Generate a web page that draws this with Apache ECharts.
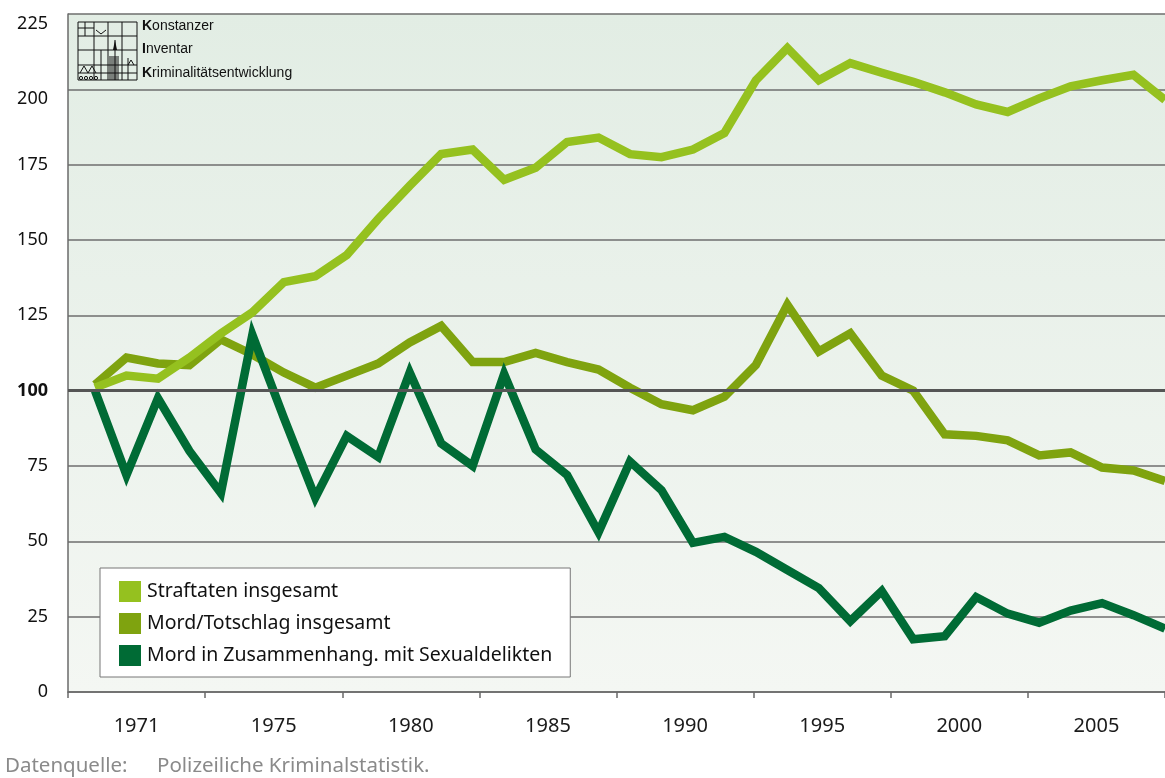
<!DOCTYPE html>
<html>
<head>
<meta charset="utf-8">
<script src="https://cdn.jsdelivr.net/npm/echarts@6/dist/echarts.min.js"></script>
<style>
  html, body {margin: 0; padding: 0; background: #fff;}
  #chart {width: 1165px; height: 778px;}
</style>
</head>
<body>
<div id="chart"></div>
<script>
// Index 1971 = 100, Konstanzer Inventar Kriminalitätsentwicklung

const YEARS = [
  1971, 1972, 1973, 1974, 1975, 1976, 1977, 1978, 1979, 1980,
  1981, 1982, 1983, 1984, 1985, 1986, 1987, 1988, 1989, 1990,
  1991, 1992, 1993, 1994, 1995, 1996, 1997, 1998, 1999, 2000,
  2001, 2002, 2003, 2004, 2005,
]

const STRAFTATEN = [
  101, 105, 104, 111, 119, 126, 136, 138, 145, 157,
  168, 178.5, 180, 170, 174, 182.5, 184, 178.5, 177.5, 180,
  185.5, 203, 213.7, 203, 208.7, 205.5, 202.5, 199, 195, 192.5,
  197, 201, 203, 204.8, 196.5,
]

const MORD_TOTSCHLAG = [
  102, 111, 109, 108.5, 117, 112, 106, 101, 105, 109,
  116, 121.5, 109.5, 109.5, 112.5, 109.5, 107, 101, 95.5, 93.5,
  98, 108.5, 128.5, 113, 119, 105, 100, 85.5, 85, 83.5,
  78.5, 79.5, 74.5, 73.5, 70,
]

const MORD_SEXUAL = [
  100, 72, 97.5, 80, 66, 118.5, 91, 64.5, 85, 78,
  106, 82.5, 75, 105.5, 80.5, 72, 53, 76.5, 67, 49.5,
  51.5, 46.5, 40.5, 34.5, 23.5, 33.5, 17.5, 18.5, 31.5, 26,
  23, 27, 29.5, 25.5, 21,
]

const TICK_LABELS = ["1971", "1975", "1980", "1985", "1990", "1995", "2000", "2005"]

const SERIES_NAMES = [
  "Straftaten insgesamt",
  "Mord/Totschlag insgesamt",
  "Mord in Zusammenhang. mit Sexualdelikten",
]

const COLORS = ["#95c11f", "#7fa30f", "#006b35"]
const FONT = "'Noto Sans', 'Open Sans', sans-serif"
const LOGO_FONT = "'Liberation Sans', Arial, sans-serif"

function toPoints(values) {
  return YEARS.map((y, i) => [y, values[i]])
}

function lineSeries(name, values, color, z) {
  return {
    name,
    type: "line",
    xAxisIndex: 0,
    yAxisIndex: 0,
    data: toPoints(values),
    symbol: "none",
    smooth: false,
    z,
    lineStyle: {color, width: 8.5, join: "miter", miterLimit: 10},
    itemStyle: {color},
  }
}

// small drawing of the KIK logo (grid with a church silhouette)
function logoGraphic() {
  const x0 = 78, y0 = 22, x1 = 137, y1 = 80
  const stroke = {stroke: "#111", lineWidth: 1}
  const lines = [
    [x0, 36, x1, 36], [x0, 50, x1, 50], [x0, 65, x1, 65], [x0, 73, x1, 73],
    [94, y0, 94, y1], [108, y0, 108, y1], [122, y0, 122, y1],
    [85, y0, 85, 36], [x0, 28, 94, 28],
    [101, 50, 101, y1], [115, 40, 115, y1], [128, 58, 128, y1],
  ]
  const children = [
    {type: "rect", shape: {x: x0, y: y0, width: x1 - x0, height: y1 - y0}, style: {fill: "none", ...stroke}},
    ...lines.map(([a, b, c, d]) => ({type: "line", shape: {x1: a, y1: b, x2: c, y2: d}, style: stroke})),
    {type: "polygon", shape: {points: [[113, 50], [115, 40], [117, 50]]}, style: {fill: "#111"}},
    {type: "polyline", shape: {points: [[80, 73], [84, 66], [88, 73], [92, 66], [96, 73]]}, style: {fill: "none", ...stroke}},
    {type: "polyline", shape: {points: [[128, 65], [131, 60], [134, 65]]}, style: {fill: "none", ...stroke}},
    {type: "polyline", shape: {points: [[96, 30], [101, 34], [106, 30]]}, style: {fill: "none", ...stroke}},
  ]
  for (let i = 0; i < 5; i++) {
    children.push({type: "line", shape: {x1: 110 + i * 2, y1: 56, x2: 110 + i * 2, y2: y1}, style: stroke})
  }
  for (let i = 0; i < 4; i++) {
    children.push({type: "circle", shape: {cx: 81 + i * 5, cy: 78, r: 1.6}, style: {fill: "none", ...stroke}})
  }
  const textStyle = (y, first, rest) => ({
    type: "text",
    left: 142,
    top: y,
    style: {
      text: `{b|${first}}${rest}`,
      font: `14px ${LOGO_FONT}`,
      fill: "#111",
      rich: {b: {fontWeight: "bold", fontSize: 14, fontFamily: LOGO_FONT}},
    },
  })
  return [
    {type: "group", children},
    textStyle(19, "K", "onstanzer"),
    textStyle(42, "I", "nventar"),
    textStyle(66, "K", "riminalitätsentwicklung"),
  ]
}

const chart = echarts.init(document.getElementById("chart"), null, {renderer: "canvas"})

chart.setOption({
  animation: false,
  backgroundColor: "#ffffff",
  textStyle: {fontFamily: FONT},
  grid: {
    left: 68,
    right: 0,
    top: 14,
    bottom: 86,
    show: true,
    borderWidth: 0,
    backgroundColor: {
      type: "linear", x: 0, y: 0, x2: 0, y2: 1,
      colorStops: [
        {offset: 0, color: "#e2ede4"},
        {offset: 1, color: "#f4f7f3"},
      ],
    },
  },
  legend: {
    orient: "vertical",
    left: 100,
    top: 568,
    padding: [13, 18, 11, 19],
    backgroundColor: "#ffffff",
    borderColor: "#777777",
    borderWidth: 1,
    itemWidth: 22,
    itemHeight: 21,
    itemGap: 11,
    icon: "rect",
    data: SERIES_NAMES,
    textStyle: {fontSize: 19.5, color: "#111", fontFamily: FONT, padding: [0, 0, 0, 1]},
  },
  xAxis: [
    {
      type: "value",
      min: 1970.142,
      max: 2005,
      show: false,
      position: "bottom",
    },
    {
      type: "category",
      data: TICK_LABELS,
      position: "bottom",
      boundaryGap: true,
      axisLine: {show: true, lineStyle: {color: "#6a6a6a", width: 1.5}},
      axisTick: {show: true, length: 6, lineStyle: {color: "#6a6a6a", width: 1.5}},
      axisLabel: {color: "#1a1a1a", fontSize: 20, margin: 24},
      splitLine: {show: false},
    },
  ],
  yAxis: {
    type: "value",
    min: 0,
    max: 225,
    interval: 25,
    axisLine: {show: true, lineStyle: {color: "#6a6a6a", width: 1.5}},
    axisTick: {show: false},
    axisLabel: {
      color: "#111",
      fontSize: 18,
      margin: 20,
      formatter(v) {
        if (v === 100) return "{b|100}"
        if (v >= 200) return `{low|${v}}`
        return String(v)
      },
      rich: {
        b: {fontWeight: "bold", fontSize: 18, color: "#111"},
        low: {fontSize: 18, color: "#111", padding: [20, 0, 0, 0]},
      },
    },
    splitLine: {lineStyle: {color: "#6e6e6e", width: 1.5}},
  },
  series: [
    {
      name: "base",
      type: "line",
      data: [],
      z: 1,
      silent: true,
      markLine: {
        silent: true,
        symbol: "none",
        label: {show: false},
        lineStyle: {color: "#555555", width: 3, type: "solid"},
        data: [{yAxis: 100}],
      },
    },
    lineSeries(SERIES_NAMES[1], MORD_TOTSCHLAG, COLORS[1], 2),
    lineSeries(SERIES_NAMES[0], STRAFTATEN, COLORS[0], 3),
    lineSeries(SERIES_NAMES[2], MORD_SEXUAL, COLORS[2], 4),
  ],
  graphic: [
    ...logoGraphic(),
    {
      type: "text",
      left: 5,
      top: 756,
      style: {text: "Datenquelle:", fontSize: 20.5, fontFamily: FONT, fill: "#8a8a8a"},
    },
    {
      type: "text",
      left: 157,
      top: 756,
      style: {text: "Polizeiliche Kriminalstatistik.", fontSize: 20.5, fontFamily: FONT, fill: "#8a8a8a"},
    },
  ],
})
</script>
</body>
</html>
